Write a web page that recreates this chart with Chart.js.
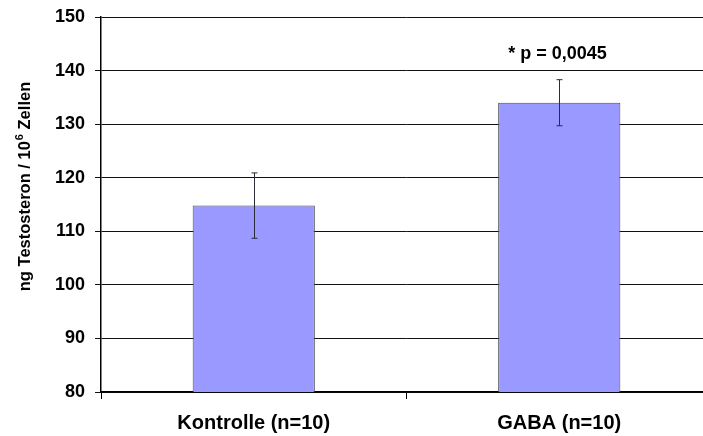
<!DOCTYPE html>
<html>
<head>
<meta charset="utf-8">
<script src="https://cdn.jsdelivr.net/npm/chart.js@4"></script>
<style>
  html, body { margin: 0; padding: 0; background: #fff; overflow: hidden; }
  #wrap { width: 712px; height: 436px; }
</style>
</head>
<body>
<div id="wrap"><canvas id="testoChart"></canvas></div>
<script>
// data
var categories = ['Kontrolle (n=10)', 'GABA (n=10)'];
var means = [114.8, 134.0];
var errors = [6.1, 4.3];
var pLabels = ['', '* p = 0,0045'];
var yTicks = [80, 90, 100, 110, 120, 130, 140, 150];

var FONT = 'Arial, "Liberation Sans", sans-serif';

// error bars + p value over the bars
var errorBarPlugin = {
  id: 'errorBars',
  afterDatasetsDraw: function(chart) {
    let ctx = chart.ctx;
    let meta = chart.getDatasetMeta(0);
    let yScale = chart.scales.y;
    ctx.save();
    ctx.strokeStyle = '#2b2b3a';
    ctx.lineWidth = 1;
    for (let i = 0; i < means.length; i++) {
      let x = Math.round(meta.data[i].x) + 0.5;
      let top = yScale.getPixelForValue(means[i] + errors[i]);
      let bot = yScale.getPixelForValue(means[i] - errors[i]);
      ctx.beginPath();
      ctx.moveTo(x, top);
      ctx.lineTo(x, bot);
      ctx.moveTo(x - 3, top);
      ctx.lineTo(x + 3, top);
      ctx.moveTo(x - 3, bot);
      ctx.lineTo(x + 3, bot);
      ctx.stroke();
      if (pLabels[i]) {
        ctx.fillStyle = '#000';
        ctx.font = 'bold 18px ' + FONT;
        ctx.textAlign = 'center';
        ctx.textBaseline = 'middle';
        ctx.fillText(pLabels[i], x - 2, top - 26);
      }
    }
    ctx.restore();
  }
};

// y title with a real superscript
var yTitlePlugin = {
  id: 'yTitle',
  afterDraw: function(chart) {
    let ctx = chart.ctx;
    let part1 = 'ng Testosteron / 10';
    let sup = '6';
    let part2 = ' Zellen';
    ctx.save();
    ctx.fillStyle = '#000';
    ctx.textBaseline = 'alphabetic';
    ctx.textAlign = 'left';
    ctx.font = 'bold 16.5px ' + FONT;
    let w1 = ctx.measureText(part1).width;
    let w3 = ctx.measureText(part2).width;
    ctx.font = 'bold 11px ' + FONT;
    let w2 = ctx.measureText(sup).width;
    let total = w1 + w2 + w3;
    ctx.translate(29.5, 187);
    ctx.rotate(-Math.PI / 2);
    let x0 = -total / 2;
    ctx.font = 'bold 16.5px ' + FONT;
    ctx.fillText(part1, x0, 0);
    ctx.font = 'bold 11px ' + FONT;
    ctx.fillText(sup, x0 + w1 + 1, -7);
    ctx.font = 'bold 16.5px ' + FONT;
    ctx.fillText(part2, x0 + w1 + w2 + 1, 0);
    ctx.restore();
  }
};

const ctx = document.getElementById('testoChart').getContext('2d');
var testoChart = new Chart(ctx, {
  type: 'bar',
  data: {
    labels: categories,
    datasets: [{
      data: means,
      backgroundColor: '#9999ff',
      borderColor: '#4a4a5a',
      borderWidth: 1,
      borderSkipped: false,
      barPercentage: 0.4,
      categoryPercentage: 1.0
    }]
  },
  options: {
    responsive: true,
    maintainAspectRatio: false,
    animation: false,
    layout: { padding: { top: 17, right: 0, bottom: 0, left: 0 } },
    plugins: {
      legend: { display: false },
      tooltip: { enabled: false }
    },
    scales: {
      x: {
        offset: true,
        grid: {
          display: true,
          offset: true,
          drawOnChartArea: false,
          drawTicks: true,
          tickLength: 7,
          color: '#000'
        },
        border: { color: '#000', width: 1.5 },
        ticks: {
          color: '#000',
          padding: 12,
          font: { family: FONT, size: 20, weight: 'bold' },
          maxRotation: 0
        },
        afterFit: function(scale) {
          scale.height = 44;
          scale.paddingLeft = 0;
          scale.paddingRight = 0;
        }
      },
      y: {
        min: 80,
        max: 150,
        afterBuildTicks: function(scale) {
          scale.ticks = yTicks.map(function(v) { return { value: v }; });
        },
        grid: {
          color: '#111',
          lineWidth: 1,
          tickLength: 6,
          drawTicks: true
        },
        border: { color: '#000', width: 1.5 },
        ticks: {
          color: '#000',
          padding: 10,
          font: { family: FONT, size: 18, weight: 'bold' }
        },
        afterFit: function(scale) {
          scale.width = 101;
          scale.paddingTop = 0;
          scale.paddingBottom = 0;
        }
      }
    }
  },
  plugins: [errorBarPlugin, yTitlePlugin]
});
</script>
</body>
</html>
